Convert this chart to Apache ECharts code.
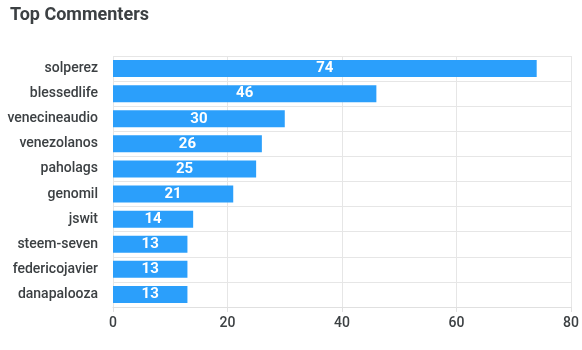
<!DOCTYPE html>
<html><head><meta charset="utf-8">
<script src="https://cdn.jsdelivr.net/npm/echarts@6/dist/echarts.min.js"></script>
<style>html,body{margin:0;padding:0;background:#fff}#c{width:582px;height:350px}</style>
</head><body><div id="c"></div>
<script>
const categories = ["solperez","blessedlife","venecineaudio","venezolanos","paholags","genomil","jswit","steem-seven","federicojavier","danapalooza"];
const values = [74,46,30,26,25,21,14,13,13,13];
const xTicks = [0,20,40,60,80];

const chart = echarts.init(document.getElementById('c'), null, {renderer:'canvas'});
chart.setOption({
  animation:false,
  title:{text:'Top Commenters',left:5,top:1,textStyle:{fontFamily:'Roboto',fontSize:18,fontWeight:'bold',color:'#3c4043'}},
  grid:{left:113,right:10,top:56,bottom:43},
  xAxis:{type:'value',min:xTicks[0],max:xTicks[xTicks.length-1],interval:20,
    axisLine:{show:true,lineStyle:{color:'#e0e0e0'}},
    axisTick:{show:true,length:5,lineStyle:{color:'#e0e0e0'}},
    splitLine:{show:true,lineStyle:{color:'#e6e6e6'}},
    axisLabel:{fontFamily:'Roboto',fontSize:14,fontWeight:500,color:'#3c4043',margin:9}},
  yAxis:{type:'category',data:categories,inverse:true,
    axisLine:{show:false},axisTick:{show:false},
    splitLine:{show:true,lineStyle:{color:'#e6e6e6'}},
    axisLabel:{fontFamily:'Roboto',fontSize:14,fontWeight:500,color:'#3c4043',margin:15,padding:[0,0,4,0]}},
  series:[{type:'bar',data:values,barWidth:17,
    itemStyle:{color:'#2b9ffb'},
    label:{show:true,position:'inside',color:'#fff',fontFamily:'Roboto',fontWeight:'bold',fontSize:15}}]
});
</script></body></html>
